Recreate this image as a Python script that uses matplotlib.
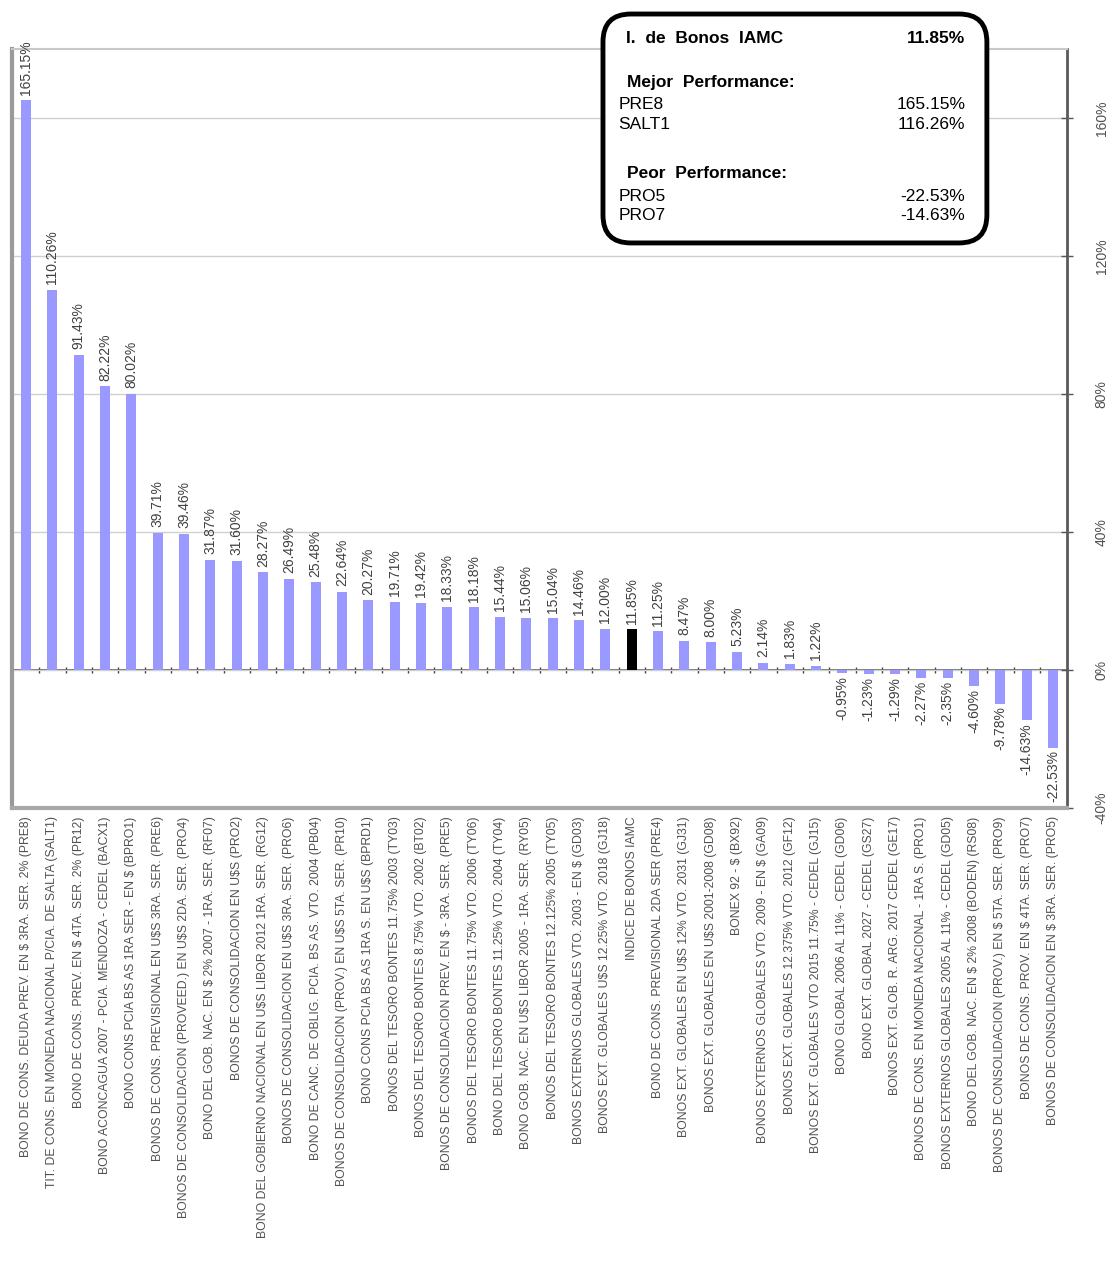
import matplotlib
matplotlib.use("Agg")
import matplotlib.pyplot as plt
from matplotlib.patches import FancyBboxPatch
import numpy as np

# datos: rendimiento de bonos (orden del grafico)
bonos = [
    "BONO DE CONS. DEUDA PREV. EN $ 3RA. SER. 2% (PRE8)",
    "TIT. DE CONS. EN MONEDA NACIONAL P/CIA. DE SALTA (SALT1)",
    "BONO DE CONS. PREV. EN $ 4TA. SER. 2% (PR12)",
    "BONO ACONCAGUA 2007 - PCIA. MENDOZA - CEDEL (BACX1)",
    "BONO CONS PCIA BS AS 1RA SER - EN $ (BPRO1)",
    "BONOS DE CONS. PREVISIONAL EN U$S 3RA. SER. (PRE6)",
    "BONOS DE CONSOLIDACION (PROVEED.) EN U$S 2DA. SER. (PRO4)",
    "BONO DEL GOB. NAC. EN $ 2% 2007 - 1RA. SER. (RF07)",
    "BONOS DE CONSOLIDACION EN U$S (PRO2)",
    "BONO DEL GOBIERNO NACIONAL EN U$S LIBOR 2012 1RA. SER. (RG12)",
    "BONOS DE CONSOLIDACION EN U$S 3RA. SER. (PRO6)",
    "BONO DE CANC. DE OBLIG. PCIA. BS AS. VTO. 2004 (PB04)",
    "BONOS DE CONSOLIDACION (PROV.) EN U$S 5TA. SER. (PR10)",
    "BONO CONS PCIA BS AS 1RA S. EN U$S (BPRD1)",
    "BONOS DEL TESORO BONTES 11.75% 2003 (TY03)",
    "BONOS DEL TESORO BONTES 8.75% VTO. 2002 (BT02)",
    "BONOS DE CONSOLIDACION PREV. EN $ - 3RA. SER. (PRE5)",
    "BONOS DEL TESORO BONTES 11.75% VTO. 2006 (TY06)",
    "BONO DEL TESORO BONTES 11.25% VTO. 2004 (TY04)",
    "BONO GOB. NAC. EN U$S LIBOR 2005 - 1RA. SER. (RY05)",
    "BONOS DEL TESORO BONTES 12.125% 2005 (TY05)",
    "BONOS EXTERNOS GLOBALES VTO. 2003 - EN $ (GD03)",
    "BONOS EXT. GLOBALES U$S 12.25% VTO. 2018 (GJ18)",
    "INDICE DE BONOS IAMC",
    "BONO DE CONS. PREVISIONAL 2DA SER (PRE4)",
    "BONOS EXT. GLOBALES EN U$S 12% VTO. 2031 (GJ31)",
    "BONOS EXT. GLOBALES EN U$S 2001-2008 (GD08)",
    "BONEX 92 - $ (BX92)",
    "BONOS EXTERNOS GLOBALES VTO. 2009 - EN $ (GA09)",
    "BONOS EXT. GLOBALES 12.375% VTO. 2012 (GF12)",
    "BONOS EXT. GLOBALES VTO 2015 11.75% - CEDEL (GJ15)",
    "BONO GLOBAL 2006 AL 11% - CEDEL (GD06)",
    "BONO EXT. GLOBAL 2027 - CEDEL (GS27)",
    "BONOS EXT. GLOB. R. ARG. 2017 CEDEL (GE17)",
    "BONOS DE CONS. EN MONEDA NACIONAL - 1RA S. (PRO1)",
    "BONOS EXTERNOS GLOBALES 2005 AL 11% - CEDEL (GD05)",
    "BONO DEL GOB. NAC. EN $ 2% 2008 (BODEN) (RS08)",
    "BONOS DE CONSOLIDACION (PROV.) EN $ 5TA. SER. (PRO9)",
    "BONOS DE CONS. PROV. EN $ 4TA. SER. (PRO7)",
    "BONOS DE CONSOLIDACION EN $ 3RA. SER. (PRO5)",
]
rendimiento = [165.15, 110.26, 91.43, 82.22, 80.02, 39.71, 39.46, 31.87, 31.60, 28.27,
               26.49, 25.48, 22.64, 20.27, 19.71, 19.42, 18.33, 18.18, 15.44, 15.06,
               15.04, 14.46, 12.00, 11.85, 11.25, 8.47, 8.00, 5.23, 2.14, 1.83,
               1.22, -0.95, -1.23, -1.29, -2.27, -2.35, -4.60, -9.78, -14.63, -22.53]
indice = "INDICE DE BONOS IAMC"

# recuadro
resumen_titulo = ("I.  de  Bonos  IAMC", "11.85%")
mejores = [("PRE8", "165.15%"), ("SALT1", "116.26%")]
peores = [("PRO5", "-22.53%"), ("PRO7", "-14.63%")]

y_ticks = [-40, 0, 40, 80, 120, 160]
y_min, y_max = -40, 180

fig = plt.figure(figsize=(11.16, 12.74), dpi=100)
ax = fig.add_axes([0.0108, 0.3658, 0.9453, 0.5957])

x = np.arange(len(bonos))
colores = ["black" if b == indice else "#9999ff" for b in bonos]
ax.bar(x, rendimiento, width=0.38, color=colores, zorder=3)

ax.set_xlim(-0.53, len(bonos) - 0.47)
ax.set_ylim(y_min, y_max)

narrow = ["Liberation Sans Narrow", "Liberation Sans"]

# etiquetas de valores
for xi, v in zip(x, rendimiento):
    txt = "{:.2f}%".format(v)
    if v >= 0:
        ax.annotate(txt, (xi, v), xytext=(0, 4), textcoords="offset points",
                    rotation=90, ha="center", va="bottom", fontsize=10,
                    color="#404040", family=narrow)
    else:
        ax.annotate(txt, (xi, v), xytext=(0, -2), textcoords="offset points",
                    rotation=90, ha="center", va="top", fontsize=10,
                    color="#404040", family=narrow)

# eje x: categorias
ax.set_xticks(x)
ax.set_xticklabels(bonos, rotation=90, fontsize=8.8, color="#505050", family=narrow)
ax.tick_params(axis="x", length=0, pad=6)

# eje y a la derecha
ax.yaxis.tick_right()
ax.set_yticks(y_ticks)
ax.set_yticklabels(["{}%".format(t) for t in y_ticks], rotation=90, va="center",
                   fontsize=10, color="#505050", family=narrow)
ax.tick_params(axis="y", direction="inout", length=8, width=1, color="#555555", pad=16)
ax.grid(axis="y", color="#d0d0d0", linewidth=1, zorder=0)

ax.spines["left"].set_color("#9a9a9a")
ax.spines["left"].set_linewidth(3)
ax.spines["bottom"].set_color("#a8a8a8")
ax.spines["bottom"].set_linewidth(3)
ax.spines["right"].set_color("#5a5a5a")
ax.spines["right"].set_linewidth(2)
ax.spines["top"].set_color("#c8c8c8")
ax.spines["top"].set_linewidth(1.5)

# linea del cero con marcas entre categorias
cero = ax.secondary_xaxis((0 - y_min) / (y_max - y_min))
cero.set_xticks(x[:-1] + 0.5)
cero.set_xticklabels([])
cero.tick_params(direction="inout", length=5, width=1, color="#444444")
cero.spines["bottom"].set_color("#555555")
cero.spines["bottom"].set_linewidth(1.2)
cero.spines["bottom"].set_zorder(4)

# recuadro de resumen
caja = FancyBboxPatch((0.5403, 0.8093), 0.344, 0.1797,
                      boxstyle="round,pad=0,rounding_size=0.025",
                      transform=fig.transFigure, facecolor="white",
                      edgecolor="black", linewidth=3.5, zorder=10,
                      mutation_aspect=1116 / 1274)
fig.add_artist(caja)

fuente = ["Liberation Sans", "DejaVu Sans"]
izq = 0.554
der = 0.865
fig.text(0.561, 0.970, resumen_titulo[0], fontsize=12.5, fontweight="bold",
         family=fuente, va="center", ha="left", zorder=11)
fig.text(der, 0.970, resumen_titulo[1], fontsize=12.5, fontweight="bold",
         family=fuente, va="center", ha="right", zorder=11)
fig.text(0.562, 0.935, "Mejor  Performance:", fontsize=12.5, fontweight="bold",
         family=fuente, va="center", ha="left", zorder=11)
for i, (n, v) in enumerate(mejores):
    yy = 0.918 - i * 0.0155
    fig.text(izq, yy, n, fontsize=12.5, family=fuente, va="center", ha="left", zorder=11)
    fig.text(der, yy, v, fontsize=12.5, family=fuente, va="center", ha="right", zorder=11)
fig.text(0.562, 0.864, "Peor  Performance:", fontsize=12.5, fontweight="bold",
         family=fuente, va="center", ha="left", zorder=11)
for i, (n, v) in enumerate(peores):
    yy = 0.846 - i * 0.0155
    fig.text(izq, yy, n, fontsize=12.5, family=fuente, va="center", ha="left", zorder=11)
    fig.text(der, yy, v, fontsize=12.5, family=fuente, va="center", ha="right", zorder=11)

plt.savefig("out.png", dpi=100)
